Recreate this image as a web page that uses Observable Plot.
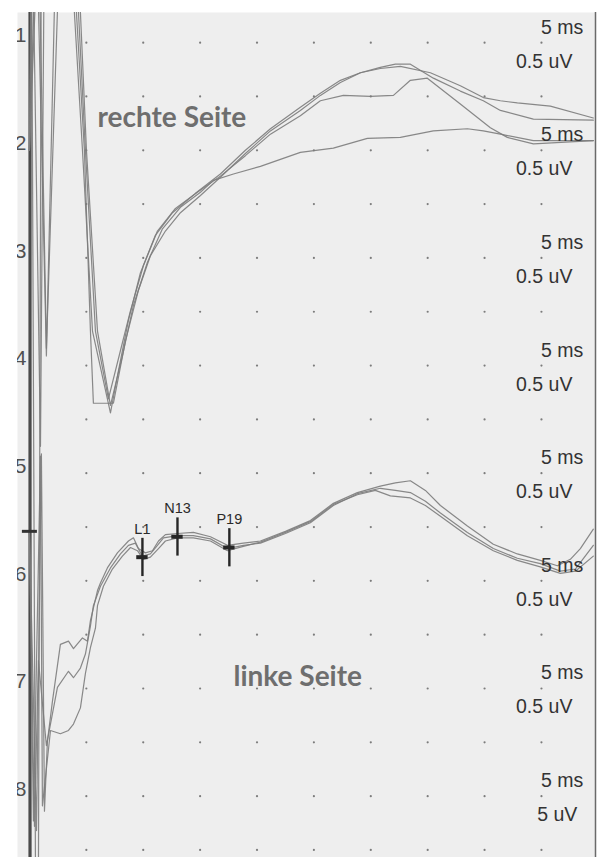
<!DOCTYPE html>
<html>
<head>
<meta charset="utf-8">
<script src="https://cdn.jsdelivr.net/npm/d3@7"></script>
<script src="https://cdn.jsdelivr.net/npm/@observablehq/plot@0.6"></script>
<style>
  html, body { margin: 0; padding: 0; background: #ffffff; }
</style>
</head>
<body>
<script>
// ---- Data: time in ms after stimulus, amplitude in µV (0 = top grid row) ----
const rightU1 = [[0,-1.00],[0.18,1.13],[0.53,-7.70],[0.79,-7.70],[1.05,1.13],[3.60,1.13],[3.95,0.28],[4.66,-1.00],[5.54,-2.68],[7.12,-3.44],[7.82,-3.05],[8.70,-2.58],[9.75,-2.14],[11.07,-1.79],[12.57,-1.58],[14.59,-1.40],[16.78,-1.22],[18.98,-1.00],[21.18,-0.80],[23.81,-0.60],[25.57,-0.47],[27.33,-0.35],[29.09,-0.28],[30.84,-0.24],[32.60,-0.22],[35.24,-0.28],[37.87,-0.40],[39.89,-0.51],[41.39,-0.54],[42.88,-0.56],[45.78,-0.59],[49.56,-0.70]];
const rightU2 = [[0,-1.00],[0.26,1.13],[0.97,-3.75],[1.32,1.13],[3.78,1.13],[4.13,0.28],[4.83,-1.00],[5.36,-2.68],[5.62,-3.35],[7.38,-3.35],[8.44,-2.77],[9.58,-2.30],[10.63,-1.98],[11.95,-1.75],[13.27,-1.58],[15.03,-1.42],[16.78,-1.25],[18.98,-1.03],[21.18,-0.82],[23.81,-0.63],[25.57,-0.49],[27.33,-0.37],[29.09,-0.28],[30.84,-0.23],[32.16,-0.20],[33.48,-0.20],[35.50,-0.33],[37.87,-0.45],[39.89,-0.54],[41.39,-0.63],[44.29,-0.71],[49.56,-0.72]];
const rightU3 = [[0,-1.00],[0.62,1.13],[1.49,-2.91],[2.37,1.13],[3.95,1.13],[4.31,0.28],[4.92,-1.00],[5.80,-2.68],[6.94,-3.31],[8.00,-2.86],[8.88,-2.49],[10.02,-2.07],[11.25,-1.75],[12.83,-1.54],[14.76,-1.39],[16.78,-1.24],[18.98,-1.05],[21.18,-0.85],[23.81,-0.68],[25.57,-0.54],[27.59,-0.49],[29.96,-0.50],[31.99,-0.49],[33.48,-0.35],[34.97,-0.33],[37.87,-0.57],[40.51,-0.79],[42.00,-0.88],[44.29,-0.94],[49.56,-0.91]];
const rightU4 = [[0,-1.00],[0.79,1.13],[1.49,-2.84],[2.72,1.13],[4.13,1.13],[4.48,0.28],[5.01,-1.00],[5.98,-2.68],[7.12,-3.37],[8.17,-2.91],[9.14,-2.44],[10.37,-2.04],[11.69,-1.73],[13.27,-1.53],[15.03,-1.39],[16.17,-1.28],[17.93,-1.22],[20.30,-1.15],[23.81,-1.02],[26.71,-0.98],[29.70,-0.89],[32.60,-0.88],[35.50,-0.82],[38.49,-0.80],[39.89,-0.82],[41.39,-0.85],[44.29,-0.91],[49.56,-0.91]];

const leftLa = [[0,-4.54],[0.62,-7.32],[1.05,-3.82],[1.32,-7.14],[1.58,-6.49],[2.02,-6.12],[2.72,-5.59],[3.43,-5.56],[3.87,-5.63],[4.66,-5.53],[5.10,-5.56],[5.36,-5.37],[5.98,-5.09],[6.24,-5.02],[6.85,-4.88],[7.73,-4.74],[8.70,-4.63],[9.14,-4.60],[9.58,-4.70],[10.19,-4.74],[10.81,-4.72],[11.34,-4.63],[11.95,-4.57],[13.01,-4.56],[14.41,-4.55],[15.91,-4.59],[17.40,-4.67],[18.80,-4.65],[20.30,-4.63],[22.50,-4.54],[24.69,-4.44],[26.71,-4.28],[28.82,-4.18],[30.84,-4.12],[32.16,-4.09],[33.48,-4.07],[34.80,-4.16],[36.12,-4.30],[38.49,-4.49],[40.77,-4.66],[42.88,-4.75],[44.90,-4.81],[46.40,-4.86],[47.54,-4.80],[48.42,-4.70],[49.56,-4.52]];
const leftLb = [[0,-4.54],[0.44,-7.28],[0.79,-5.74],[1.49,-6.53],[2.46,-5.99],[3.43,-5.84],[3.87,-5.90],[4.48,-5.81],[4.92,-5.68],[5.36,-5.42],[5.62,-5.23],[6.24,-5.05],[7.12,-4.88],[8.00,-4.75],[8.70,-4.67],[9.31,-4.65],[9.93,-4.77],[10.63,-4.75],[11.25,-4.67],[11.78,-4.60],[13.01,-4.58],[14.41,-4.58],[15.91,-4.61],[17.40,-4.70],[18.80,-4.67],[20.30,-4.65],[22.50,-4.56],[24.69,-4.46],[26.71,-4.30],[28.82,-4.19],[30.84,-4.14],[32.16,-4.16],[33.48,-4.18],[34.80,-4.26],[36.12,-4.37],[38.49,-4.55],[40.77,-4.70],[42.88,-4.79],[44.90,-4.84],[46.66,-4.91],[47.98,-4.89],[49.56,-4.67]];
const leftLc = [[0,-4.54],[0.35,-7.23],[0.97,-3.84],[1.14,-7.09],[1.85,-6.39],[2.72,-6.42],[3.43,-6.39],[3.87,-6.33],[4.48,-6.18],[4.92,-5.86],[5.36,-5.62],[5.80,-5.44],[5.98,-5.23],[6.50,-5.05],[7.29,-4.89],[8.17,-4.77],[8.88,-4.69],[9.49,-4.72],[10.02,-4.80],[10.63,-4.78],[11.34,-4.70],[11.95,-4.63],[13.01,-4.60],[14.41,-4.60],[15.91,-4.63],[17.40,-4.72],[18.80,-4.68],[20.30,-4.64],[22.50,-4.55],[24.69,-4.45],[26.71,-4.29],[28.82,-4.20],[30.40,-4.16],[31.72,-4.21],[33.48,-4.23],[34.80,-4.30],[36.12,-4.40],[38.49,-4.58],[40.77,-4.72],[42.88,-4.81],[44.90,-4.87],[46.66,-4.93],[47.98,-4.91],[49.56,-4.77]];

// peak markers (name, latency ms, amplitude µV)
const peakNames = ["L1", "N13", "P19"];
const peakTimes = [9.93, 13.01, 17.57];
const peakValues = [-4.78, -4.59, -4.69];

// stimulus cursor
const cursorTime = 0.05;
const cursorValue = -4.54;

// channel labels and calibration labels
const channelNumbers = ["1", "2", "3", "4", "5", "6", "7", "8"];
const timeCal = ["5 ms", "5 ms", "5 ms", "5 ms", "5 ms", "5 ms", "5 ms", "5 ms"];
const voltCal = ["0.5 uV", "0.5 uV", "0.5 uV", "0.5 uV", "0.5 uV", "0.5 uV", "0.5 uV", "5 uV"];

// grid (5 ms × 0.5 µV divisions)
const gridTimes = [5, 10, 15, 20, 25, 30, 35, 40, 45];
const gridValues = [0, -0.5, -1, -1.5, -2, -2.5, -3, -3.5, -4, -4.5, -5, -5.5, -6, -6.5, -7, -7.5];

// side annotations
const sideLabels = ["rechte Seite", "linke Seite"];
const sideTimes = [5.98, 17.93];
const sideValues = [-0.78, -5.98];

// ---- Build tables ----
const traces = [
  ["rU1", rightU1], ["rU2", rightU2], ["rU3", rightU3], ["rU4", rightU4],
  ["lA", leftLa], ["lB", leftLb], ["lC", leftLc]
].flatMap(([id, pts]) => pts.map(([t, v]) => ({id, t, v})));

const grid = gridValues.flatMap(v => gridTimes.map(t => ({t, v})));
const peaks = peakNames.map((name, i) => ({name, t: peakTimes[i], v: peakValues[i]}));
const chan = channelNumbers.map((n, i) => ({n, i, ms: timeCal[i], uv: voltCal[i]}));
const sides = sideLabels.map((s, i) => ({s, t: sideTimes[i], v: sideValues[i]}));

const xDomain = [-1.05, 49.75];
const yDomain = [-7.57, 0.28];
const channelStep = 1.0; // two grid divisions per channel

const plot = Plot.plot({
  width: 602,
  height: 857,
  marginLeft: 17,
  marginRight: 7,
  marginTop: 12,
  marginBottom: 0,
  x: {domain: xDomain, axis: null},
  y: {domain: yDomain, axis: null},
  style: {background: "#ffffff"},
  marks: [
    Plot.frame({fill: "#eeeeee", stroke: null}),
    Plot.dot(grid, {x: "t", y: "v", r: 1.1, fill: "#7c7c7c", stroke: null}),
    // stimulus line
    Plot.ruleX([cursorTime], {stroke: "#4a4a4a", strokeWidth: 3.2}),
    // right frame edge
    Plot.ruleX([xDomain[1]], {stroke: "#6a6a6a", strokeWidth: 1.5}),
    // channel numbers (cut by the left edge of the scan)
    Plot.text(chan, {x: -1.3, y: d => 0.065 - d.i * channelStep, text: "n", textAnchor: "start",
      fontFamily: "Liberation Sans, Arial, sans-serif", fontSize: 21, fill: "#505050", clip: true}),
    // traces
    Plot.line(traces, {x: "t", y: "v", z: "id", stroke: "#7c7c7c", strokeWidth: 1.2,
      strokeOpacity: 0.9, clip: true}),
    // cursor cross on stimulus line
    Plot.ruleY([cursorValue], {x1: -0.62, x2: 0.7, stroke: "#333", strokeWidth: 3}),
    // peak markers
    Plot.ruleX(peaks, {x: "t", y1: d => d.v + 0.175, y2: d => d.v - 0.18, stroke: "#262626", strokeWidth: 2.4}),
    Plot.ruleY(peaks, {y: "v", x1: d => d.t - 0.5, x2: d => d.t + 0.5, stroke: "#262626", strokeWidth: 4}),
    Plot.text(peaks, {x: "t", y: "v", text: "name", dy: -23.5, lineAnchor: "bottom", textAnchor: "middle",
      fontFamily: "Liberation Sans, Arial, sans-serif", fontSize: 14.5, fill: "#2a2a2a", letterSpacing: -0.5}),
    // calibration labels
    Plot.text(chan, {x: 48.68, y: d => 0.084 - d.i * channelStep, text: "ms", textAnchor: "end", lineAnchor: "bottom",
      fontFamily: "Liberation Sans, Arial, sans-serif", fontSize: 19.5, fill: "#333", letterSpacing: -0.6}),
    Plot.text(chan, {x: d => d.uv === "5 uV" ? 48.15 : 47.72, y: d => -0.232 - d.i * channelStep, text: "uv",
      textAnchor: "end", lineAnchor: "bottom",
      fontFamily: "Liberation Sans, Arial, sans-serif", fontSize: 19.5, fill: "#333", letterSpacing: -0.4}),
    // side annotations
    Plot.text(sides, {x: "t", y: "v", text: "s", textAnchor: "start", lineAnchor: "bottom",
      fontFamily: "Lato, Noto Sans, sans-serif", fontWeight: 700, fontSize: 28, fill: "#6e6e6e"})
  ]
});

document.body.appendChild(plot);
</script>
</body>
</html>
